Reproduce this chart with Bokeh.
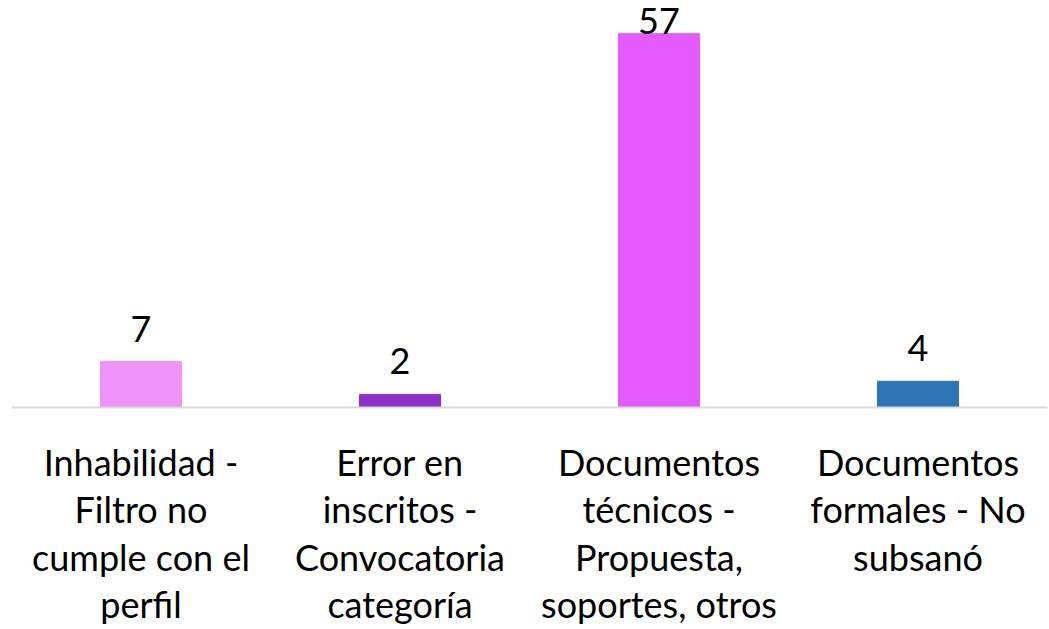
from bokeh.plotting import figure
from bokeh.models import ColumnDataSource, FactorRange, Range1d
from bokeh.core.properties import value
from bokeh.embed import file_html
from bokeh.resources import INLINE

categories = ["Inhabilidad -\nFiltro no\ncumple con el\nperfil",
              "Error en\ninscritos -\nConvocatoria\ncategoría",
              "Documentos\ntécnicos -\nPropuesta,\nsoportes, otros",
              "Documentos\nformales - No\nsubsanó"]
values = [7, 2, 57, 4]
colors = ["#EE94F8", "#8E30C6", "#E35BFE", "#2E75B6"]
labels = [str(v) for v in values]
label_offsets = [0 if v == max(values) else -20 for v in values]

src = ColumnDataSource(dict(cat=categories, val=values, color=colors,
                            lab=labels, off=label_offsets))

p = figure(x_range=FactorRange(*categories), y_range=Range1d(0, 61.6),
           width=1049, height=629, output_backend="svg", toolbar_location=None,
           min_border_left=11, min_border_right=2, min_border_top=3)
p.vbar(x="cat", top="val", width=0.313, color="color", source=src)
p.text(x="cat", y="val", text="lab", y_offset="off", source=src,
       text_align="center", text_baseline="bottom",
       text_font=value("Lato"), text_font_size="36px", text_color="#000000")

p.yaxis.visible = False
p.xgrid.visible = False
p.ygrid.visible = False
p.outline_line_color = None
ax = p.xaxis[0]
ax.axis_line_color = "#D9D9D9"
ax.axis_line_width = 2
ax.major_tick_line_color = None
ax.minor_tick_line_color = None
ax.major_tick_out = 0
ax.major_tick_in = 0
ax.major_label_standoff = 32
ax.major_label_text_font = "Lato"
ax.major_label_text_font_size = "36px"
ax.major_label_text_color = "#000000"
ax.major_label_text_line_height = 1.08
ax.major_label_orientation = "horizontal"

open("out.html", "w").write(file_html(p, INLINE))
